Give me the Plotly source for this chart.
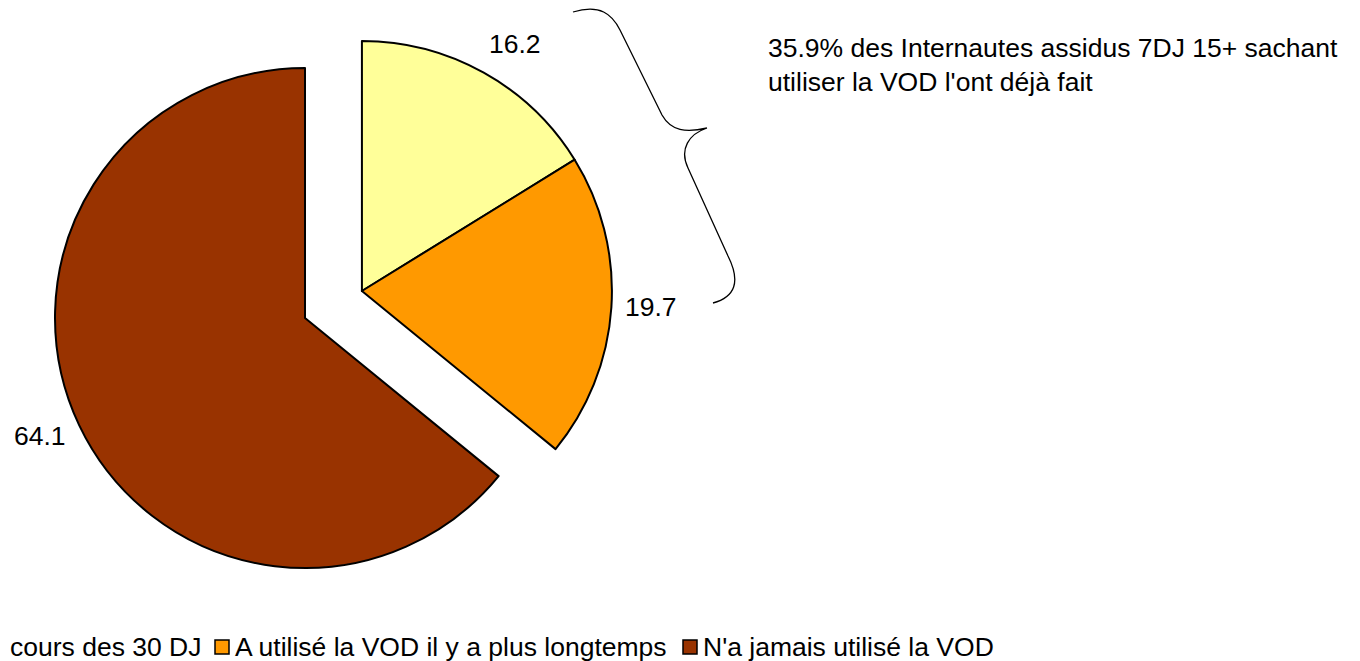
import math
import plotly.graph_objects as go

# --- data -----------------------------------------------------------------
categories = [
    "A utilisé la VOD au cours des 30 DJ",
    "A utilisé la VOD il y a plus longtemps",
    "N'a jamais utilisé la VOD",
]
values = [16.2, 19.7, 64.1]
colors = ["#FFFF99", "#FF9900", "#993300"]
# legend row entries as they appear along the bottom edge
legend_texts = ["cours des 30 DJ", categories[1], categories[2]]
note_text = "35.9% des Internautes assidus 7DJ 15+ sachant<br>utiliser la VOD l'ont déjà fait"

# --- layout constants (pixels) ---------------------------------------------
W, H = 1360, 661
FONT = "Liberation Sans, Arial, sans-serif"
FS = 26.5
R = 250                      # pie radius
BASE_C = (305, 318)          # centre of the main pie
PULL = 63                    # distance the "users" group is pulled out

total = sum(values)
mids = []
acc = 0.0
for v in values:
    mids.append((acc + v / 2) / total * 360)
    acc += v

# the first two slices move out together, along their common bisector
grp_mid = (values[0] + values[1]) / 2 / total * 360
PULL_C = (BASE_C[0] + PULL * math.sin(math.radians(grp_mid)),
          BASE_C[1] - PULL * math.cos(math.radians(grp_mid)))


def domain(c):
    x0, x1 = (c[0] - R) / W, (c[0] + R) / W
    y0, y1 = 1 - (c[1] + R) / H, 1 - (c[1] - R) / H
    return dict(x=[x0, x1], y=[y0, y1])


clear = "rgba(0,0,0,0)"
fig = go.Figure()

# main pie: only the "never used" slice is visible
fig.add_trace(go.Pie(
    labels=categories, values=values, sort=False, direction="clockwise",
    rotation=0, domain=domain(BASE_C), textinfo="none", hoverinfo="skip",
    showlegend=False,
    marker=dict(colors=[clear, clear, colors[2]],
                line=dict(color=[clear, clear, "black"], width=2)),
))
# pulled-out group: the two "already used" slices
fig.add_trace(go.Pie(
    labels=categories, values=values, sort=False, direction="clockwise",
    rotation=0, domain=domain(PULL_C), textinfo="none", hoverinfo="skip",
    showlegend=False,
    marker=dict(colors=[colors[0], colors[1], clear],
                line=dict(color=["black", "black", clear], width=2)),
))

annotations = []
# value labels just outside the arc, beside each slice's mid-point
for i, v in enumerate(values):
    c = PULL_C if i < 2 else BASE_C
    a = math.radians(mids[i])
    px, py = c[0] + R * math.sin(a), c[1] - R * math.cos(a)
    s = math.sin(a)
    dx = 40 * math.copysign(abs(s) ** (1 / 3), s)
    dy = -30 * math.cos(a) - 2
    annotations.append(dict(
        x=px + dx, y=py + dy, xref="x", yref="y", text=f"{v:.1f}",
        showarrow=False, xanchor="center", yanchor="middle",
        font=dict(family=FONT, size=FS, color="black"),
    ))

# side note next to the brace
annotations.append(dict(
    x=766, y=31, xref="x", yref="y", text=note_text, showarrow=False,
    xanchor="left", yanchor="top", align="left",
    font=dict(family=FONT, size=FS, color="black"),
))

# legend row
LEG_Y = 647
annotations.append(dict(
    x=8, y=LEG_Y, xref="x", yref="y", text=legend_texts[0], showarrow=False,
    xanchor="left", yanchor="middle",
    font=dict(family=FONT, size=FS, color="black"),
))
shapes = []
for sx, name, col in [(215, legend_texts[1], colors[1]), (683, legend_texts[2], colors[2])]:
    shapes.append(dict(type="rect", xref="x", yref="y",
                       x0=sx, x1=sx + 14, y0=LEG_Y - 7, y1=LEG_Y + 7,
                       fillcolor=col, line=dict(color="black", width=1.5)))
    annotations.append(dict(
        x=sx + 18, y=LEG_Y, xref="x", yref="y", text=name, showarrow=False,
        xanchor="left", yanchor="middle",
        font=dict(family=FONT, size=FS, color="black"),
    ))

# curly brace grouping the two pulled-out slices
brace = ("M 573,12 C 600,4 612,14 620,30 L 662,115 C 671,131 686,133 707,128 "
         "M 707,128 C 689,134 679,149 688,168 L 728,256 C 741,282 735,297 713,303")
shapes.append(dict(type="path", xref="x", yref="y", path=brace,
                   line=dict(color="black", width=1.3)))

fig.update_layout(
    width=W, height=H,
    margin=dict(l=0, r=0, t=0, b=0),
    paper_bgcolor="white", plot_bgcolor="rgba(0,0,0,0)",
    xaxis=dict(range=[0, W], visible=False, fixedrange=True),
    yaxis=dict(range=[H, 0], visible=False, fixedrange=True),
    annotations=annotations, shapes=shapes,
    showlegend=False,
)

fig.write_html("out.html", config={"displayModeBar": False})
